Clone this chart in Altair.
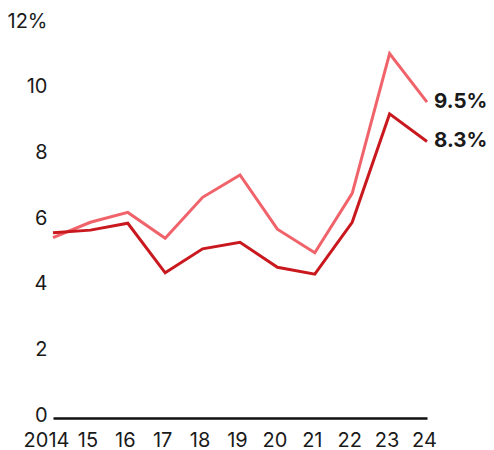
import altair as alt
import pandas as pd

years = [2014, 2015, 2016, 2017, 2018, 2019, 2020, 2021, 2022, 2023, 2024]
series_light = [5.37, 5.84, 6.14, 5.35, 6.60, 7.28, 5.63, 4.91, 6.72, 10.98, 9.5]
series_dark = [5.52, 5.60, 5.81, 4.30, 5.03, 5.23, 4.47, 4.26, 5.84, 9.14, 8.3]
series_names = ["Light", "Dark"]
series_colors = ["#f0636a", "#c9191f"]
y_ticks = [0, 2, 4, 6, 8, 10, 12]

rows = []
for name, vals in zip(series_names, [series_light, series_dark]):
    for yr, v in zip(years, vals):
        rows.append({"year": yr, "value": v, "series": name})
df = pd.DataFrame(rows)

FONT = "Inter"

x = alt.X(
    "year:Q",
    scale=alt.Scale(domain=[years[0], years[-1]], nice=False, zero=False),
    axis=alt.Axis(
        values=years,
        title=None,
        grid=False,
        ticks=False,
        domain=True,
        domainColor="#111111",
        domainWidth=2.5,
        offset=4,
        labelFont=FONT,
        labelFontSize=20,
        labelColor="#1a1a1a",
        labelPadding=12,
        labelExpr="datum.value == 2014 ? '2014' : slice(toString(datum.value), 2)",
        labelOffset={"condition": {"test": "datum.value == 2014", "value": -7}, "value": -3},
        labelFlush=False,
        labelOverlap=False,
        labelBound=False,
    ),
)
y = alt.Y(
    "value:Q",
    scale=alt.Scale(domain=[0, 12], nice=False),
    axis=alt.Axis(
        values=y_ticks,
        title=None,
        grid=False,
        ticks=False,
        domain=False,
        labelFont=FONT,
        labelFontSize=20,
        labelColor="#1a1a1a",
        labelPadding=6,
        labelOffset=1,
        labelExpr="datum.value == 12 ? '12%' : datum.label",
        labelFlush=False,
        labelOverlap=False,
    ),
)
color = alt.Color(
    "series:N",
    scale=alt.Scale(domain=series_names, range=series_colors),
    legend=None,
)

lines = alt.Chart(df).mark_line(strokeWidth=3, strokeJoin="miter").encode(
    x=x, y=y, color=color, order="year:Q"
)

labels = (
    alt.Chart(df)
    .transform_filter(alt.datum.year == years[-1])
    .transform_calculate(lab="format(datum.value, '.1f') + '%'")
    .mark_text(
        align="left",
        baseline="middle",
        dx=7,
        font=FONT,
        fontSize=20.5,
        fontWeight="bold",
        color="#1a1a1a",
    )
    .encode(x=x, y=y, text="lab:N")
)

chart = (
    alt.layer(lines, labels)
    .properties(
        width=374,
        height=394,
        background="white",
        autosize=alt.AutoSizeParams(type="none"),
        padding={"left": 45, "top": 12, "right": 59, "bottom": 40},
    )
    .configure_view(strokeWidth=0, stroke=None)
    .configure_axis(labelOverlap=False)
)

chart.save("out.html", embed_options={"renderer": "svg", "actions": False})
